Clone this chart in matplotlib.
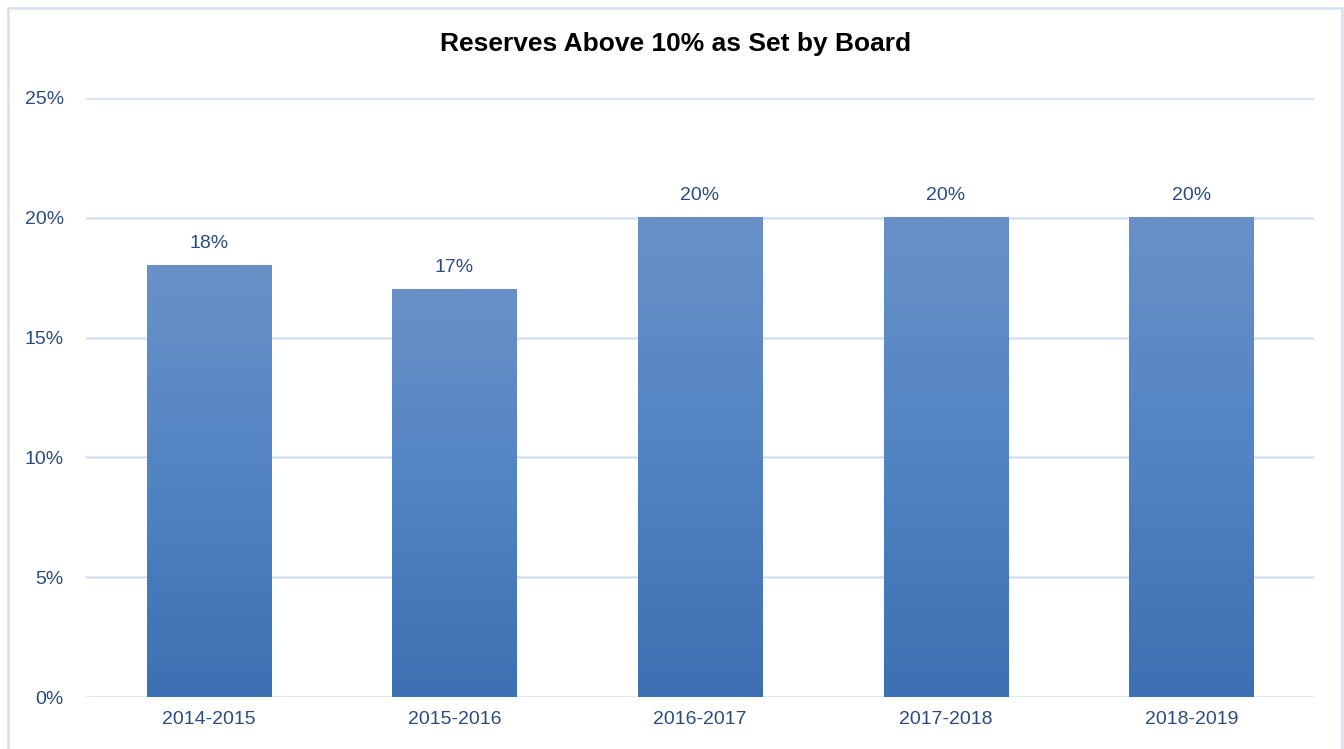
import numpy as np
import matplotlib.pyplot as plt
from matplotlib.patches import Rectangle
from matplotlib.colors import LinearSegmentedColormap

years = ['2014-2015', '2015-2016', '2016-2017', '2017-2018', '2018-2019']
reserves = [18, 17, 20, 20, 20]

TEXT = '#2B4C7E'
GRID = '#D5E1F2'

plt.rcParams['font.family'] = ['Liberation Sans', 'DejaVu Sans']

fig = plt.figure(figsize=(13.44, 7.49), dpi=100)
ax = fig.add_axes([0.064, 0.0694, 0.9137, 0.7998])

x = np.arange(len(years))
bars = ax.bar(x, reserves, width=0.505, color='none', zorder=3)

# gradient fill per bar, light at top, darker at the base
cmap = LinearSegmentedColormap.from_list('bar', ['#3D70B2', '#5283C3', '#6991C8'])
grad = np.linspace(0, 1, 256).reshape(-1, 1)
for b in bars:
    x0, w, h = b.get_x(), b.get_width(), b.get_height()
    ax.imshow(grad, cmap=cmap, origin='lower', aspect='auto',
              extent=(x0, x0 + w, 0, h), zorder=3)

for xi, v in zip(x, reserves):
    ax.annotate(f'{v}%', (xi, v), xytext=(0, 10), textcoords='offset points',
                ha='center', va='bottom', fontsize=14, color=TEXT)

ax.set_xlim(-0.5, len(years) - 0.5)
ax.set_ylim(0, 25)
ax.set_yticks(range(0, 26, 5))
ax.set_yticklabels([f'{t}%' for t in range(0, 26, 5)])
ax.set_xticks(x)
ax.set_xticklabels(years)
ax.tick_params(axis='both', length=0, labelsize=14, colors=TEXT)
ax.tick_params(axis='y', pad=16)
ax.tick_params(axis='x', pad=10)
ax.grid(axis='y', color=GRID, linewidth=1.8, zorder=0)
for s in ax.spines.values():
    s.set_visible(False)

fig.suptitle('Reserves Above 10% as Set by Board', x=0.503, y=0.957,
             fontsize=19, fontweight='bold', color='black')

# outer chart frame
fig.patches.append(Rectangle((8 / 1344, -0.05), 1334 / 1344, 0.05 + 741 / 749,
                             transform=fig.transFigure, fill=False,
                             edgecolor=GRID, linewidth=1.8))

fig.savefig('out.png', dpi=100)
